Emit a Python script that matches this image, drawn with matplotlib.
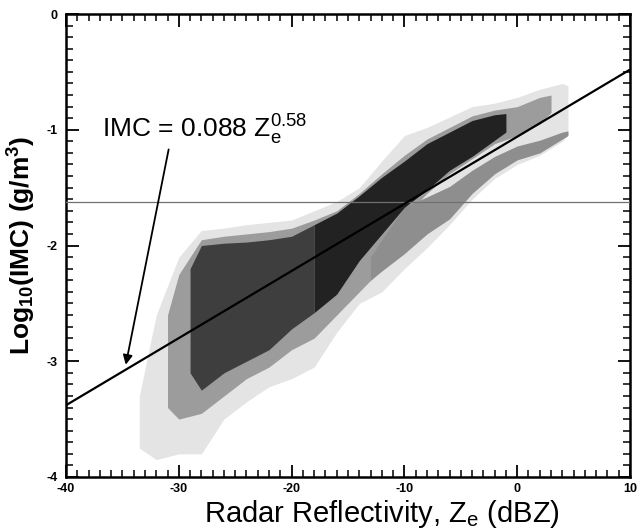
import matplotlib
matplotlib.use("Agg")
import matplotlib.pyplot as plt
from matplotlib.ticker import MultipleLocator

plt.rcParams['font.family'] = ['Liberation Sans', 'DejaVu Sans']
plt.rcParams['mathtext.fontset'] = 'custom'
plt.rcParams['mathtext.rm'] = 'Liberation Sans'
plt.rcParams['mathtext.it'] = 'Liberation Sans'
plt.rcParams['mathtext.bf'] = 'Liberation Sans:bold'

# ---- data (dBZ vs log10(IMC)) ----
# outer envelope of sparse points
env_x = [-33.5, -32, -30, -28, -26, -24, -22, -20, -18, -16, -14, -12, -10, -8, -6, -4, -2, 0, 2, 4, 4.5]
env_lo = [-3.75, -3.85, -3.80, -3.80, -3.50, -3.35, -3.22, -3.15, -3.05, -2.75, -2.50, -2.40, -2.20, -2.02, -1.82, -1.60, -1.42, -1.30, -1.22, -1.10, -1.04]
env_hi = [-3.30, -2.60, -2.10, -1.87, -1.85, -1.82, -1.80, -1.78, -1.70, -1.62, -1.50, -1.27, -1.05, -0.98, -0.89, -0.80, -0.77, -0.72, -0.65, -0.60, -0.62]

# medium-density main band
mid_x = [-31, -30, -28, -26, -24, -22, -20, -18, -16, -14, -12, -10, -8, -6, -4, -2, 0, 2, 3]
mid_lo = [-3.40, -3.50, -3.45, -3.30, -3.15, -3.05, -2.90, -2.80, -2.60, -2.40, -2.20, -1.75, -1.55, -1.38, -1.25, -1.12, -1.05, -0.95, -0.85]
mid_hi = [-2.60, -2.25, -1.95, -1.92, -1.90, -1.88, -1.85, -1.78, -1.70, -1.55, -1.38, -1.22, -1.08, -0.98, -0.88, -0.83, -0.80, -0.72, -0.70]

# secondary (lower) band on the right
sec_x = [-13, -12, -10, -8, -6, -4, -2, 0, 2, 4, 4.5]
sec_lo = [-2.30, -2.22, -2.07, -1.90, -1.77, -1.55, -1.38, -1.26, -1.20, -1.08, -1.05]
sec_hi = [-2.10, -1.95, -1.67, -1.58, -1.49, -1.35, -1.23, -1.14, -1.09, -1.02, -1.01]

# dense core (left part is less dense than the right part)
core_x = [-29, -28, -26, -24, -22, -20, -18, -16, -14, -12, -10, -8, -6, -4, -2, -1]
core_lo = [-3.10, -3.25, -3.10, -3.00, -2.90, -2.72, -2.58, -2.42, -2.13, -1.90, -1.67, -1.52, -1.35, -1.23, -1.09, -1.02]
core_hi = [-2.20, -2.00, -1.98, -1.97, -1.95, -1.92, -1.82, -1.72, -1.57, -1.41, -1.27, -1.12, -1.02, -0.92, -0.87, -0.86]
core_split = -18  # dBZ where the core becomes darker

# fit line IMC = 0.088 Ze^0.58 (end points)
fit_x = [-40, 10]
fit_y = [-3.38, -0.48]

# horizontal reference line
href_y = -1.62

# annotation arrow
arrow_tail = (-30.9, -1.17)
arrow_tip = (-34.7, -3.03)

xlim = (-40, 10)
ylim = (-4, 0)
xticks = [-40, -30, -20, -10, 0, 10]
yticks = [-4, -3, -2, -1, 0]

fig = plt.figure(figsize=(6.42, 5.29), dpi=100)
ax = fig.add_axes([0.1028, 0.0983, 0.8785, 0.8752])

ax.fill_between(env_x, env_lo, env_hi, color='#e4e4e4', lw=0, zorder=1)
ax.fill_between(mid_x, mid_lo, mid_hi, color='#9c9c9c', lw=0, zorder=2)
ax.fill_between(sec_x, sec_lo, sec_hi, color='#8e8e8e', lw=0, zorder=2)

k = core_x.index(core_split)
ax.fill_between(core_x[:k + 1], core_lo[:k + 1], core_hi[:k + 1], color='#3e3e3e', lw=0, zorder=3)
ax.fill_between(core_x[k:], core_lo[k:], core_hi[k:], color='#222222', lw=0, zorder=3)

ax.axhline(href_y, color='#707070', lw=0.9, zorder=4)
ax.plot(fit_x, fit_y, color='black', lw=1.6, zorder=5, solid_capstyle='butt')

ax.annotate('', xy=arrow_tip, xytext=arrow_tail,
            arrowprops=dict(arrowstyle='-|>', color='black', lw=1.3,
                            mutation_scale=14, shrinkA=0, shrinkB=0), zorder=6)
ax.text(-36.8, -1.0, r'IMC = 0.088 $\mathrm{Z}_\mathrm{e}^{0.58}$', fontsize=19,
        va='center', ha='left', zorder=6)

ax.set_xlim(*xlim)
ax.set_ylim(*ylim)
ax.set_xticks(xticks)
ax.set_yticks(yticks)
ax.set_xticklabels([str(t) for t in xticks], fontsize=9, fontweight='bold')
ax.set_yticklabels([str(t) for t in yticks], fontsize=9, fontweight='bold')
ax.xaxis.set_minor_locator(MultipleLocator(1))
ax.yaxis.set_minor_locator(MultipleLocator(0.1))
ax.tick_params(which='both', direction='in', top=True, right=True, width=1.3, colors='black')
ax.tick_params(which='major', length=9, pad=6)
ax.tick_params(axis='x', which='major', pad=4)
ax.tick_params(which='minor', length=5, width=1.1)
for s in ax.spines.values():
    s.set_linewidth(1.8)

ax.set_xlabel(r'Radar Reflectivity, $\mathrm{Z}_\mathrm{e}$ (dBZ)', fontsize=21, labelpad=0)
ax.xaxis.set_label_coords(0.56, -0.046, transform=ax.transAxes)
ax.xaxis.label.set_va('top')
ax.set_ylabel(r'$\mathbf{Log_{10}(IMC)\ (g/m^3)}$', fontsize=19, labelpad=6)

fig.savefig('out.png', dpi=100)
